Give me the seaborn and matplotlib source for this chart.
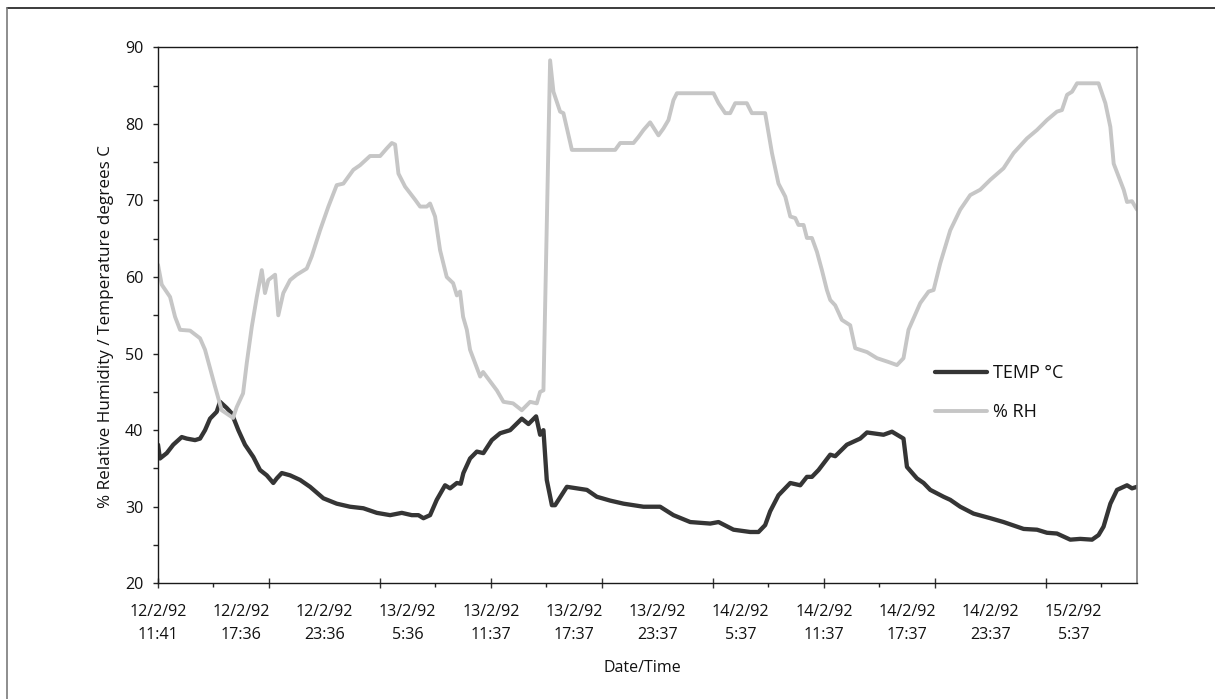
import matplotlib
matplotlib.use("Agg")
import matplotlib.pyplot as plt
from matplotlib.lines import Line2D
from matplotlib.ticker import FixedLocator, MultipleLocator, NullFormatter
import numpy as np
import pandas as pd
import seaborn as sns

# Logger readings, hours elapsed since 12/2/92 11:41
temp_hours = [0.00, 0.14, 0.63, 1.10, 1.71, 2.07, 2.67, 3.03, 3.39, 3.75, 4.23, 4.47,
              4.95, 5.31, 5.79, 6.27, 6.87, 7.35, 7.84, 8.31, 8.56, 8.92, 9.52, 10.24,
              10.96, 11.92, 12.88, 13.84, 14.80, 15.77, 16.73, 17.57, 18.29, 18.77, 19.13,
              19.61, 20.09, 20.69, 21.05, 21.54, 21.82, 22.01, 22.49, 22.98, 23.45, 24.06,
              24.66, 25.38, 26.22, 26.70, 27.25, 27.54, 27.78, 28.02, 28.39, 28.62, 29.47,
              30.91, 31.63, 32.59, 33.55, 34.99, 36.19, 37.15, 38.36, 39.80, 40.40, 41.48,
              42.68, 43.28, 43.76, 44.12, 44.72, 45.57, 46.29, 46.77, 47.13, 47.61, 48.45,
              48.81, 49.65, 50.61, 51.10, 52.29, 52.90, 53.73, 53.98, 54.70, 55.18, 55.66,
              56.62, 57.10, 57.82, 58.78, 59.99, 60.94, 62.39, 63.35, 64.07, 64.79, 65.75,
              66.47, 67.32, 67.79, 68.15, 68.64, 69.12, 69.84, 70.20, 70.56]
temp_values = [38.1, 36.3, 37.0, 38.1, 39.1, 38.9, 38.7, 38.9, 40.0, 41.5, 42.4, 43.7,
               42.9, 42.2, 40.0, 38.1, 36.5, 34.8, 34.1, 33.1, 33.7, 34.4, 34.1, 33.5,
               32.6, 31.1, 30.4, 30.0, 29.8, 29.2, 28.9, 29.2, 28.9, 28.9, 28.5,
               28.9, 30.9, 32.8, 32.4, 33.1, 33.0, 34.4, 36.3, 37.2, 37.0, 38.7,
               39.6, 40.0, 41.5, 40.8, 41.8, 39.4, 40.0, 33.5, 30.2, 30.2, 32.6,
               32.2, 31.3, 30.8, 30.4, 30.0, 30.0, 28.9, 28.0, 27.8, 28.0, 27.0,
               26.7, 26.7, 27.6, 29.4, 31.5, 33.1, 32.8, 33.9, 33.9, 34.8, 36.8,
               36.6, 38.1, 38.9, 39.7, 39.4, 39.8, 38.9, 35.2, 33.7, 33.1, 32.2,
               31.3, 30.9, 30.0, 29.1, 28.5, 28.0, 27.1, 27.0, 26.6, 26.5, 25.7,
               25.8, 25.7, 26.3, 27.4, 30.4, 32.2, 32.8, 32.4, 32.6]

rh_hours = [0.00, 0.27, 0.87, 1.23, 1.59, 2.31, 3.03, 3.39, 4.11, 4.59, 5.41, 5.67,
            6.13, 6.40, 6.76, 7.12, 7.48, 7.71, 7.95, 8.44, 8.67, 9.03, 9.52, 10.00,
            10.72, 11.08, 11.68, 12.28, 12.88, 13.36, 14.08, 14.56, 15.28, 16.01, 16.49,
            16.85, 17.09, 17.33, 17.81, 18.53, 18.89, 19.37, 19.61, 19.97, 20.33, 20.81,
            21.27, 21.54, 21.77, 21.99, 22.26, 22.49, 23.22, 23.43, 24.42, 24.90, 25.59,
            26.22, 26.82, 27.30, 27.54, 27.78, 28.26, 28.50, 28.98, 29.22, 29.83, 32.95,
            33.31, 34.27, 34.63, 34.99, 35.47, 36.07, 36.43, 36.79, 37.15, 37.40, 40.04,
            40.40, 40.88, 41.24, 41.60, 42.44, 42.80, 43.76, 44.25, 44.72, 45.21, 45.57,
            45.93, 46.16, 46.53, 46.77, 47.13, 47.49, 47.85, 48.21, 48.45, 48.81, 49.29,
            49.89, 50.25, 51.10, 51.82, 52.65, 53.26, 53.73, 54.09, 54.94, 55.54, 55.90,
            56.38, 57.10, 57.82, 58.54, 59.26, 59.99, 60.94, 61.67, 62.63, 63.35, 64.07,
            64.79, 65.15, 65.52, 65.88, 66.24, 67.79, 68.28, 68.64, 68.88, 69.24, 69.60,
            69.84, 70.20, 70.56]
rh_values = [61.6, 59.0, 57.4, 54.8, 53.1, 53.0, 52.0, 50.5, 45.7, 42.6, 41.6, 43.0,
             44.8, 48.8, 53.5, 57.4, 60.9, 57.9, 59.6, 60.3, 55.0, 57.9, 59.6, 60.3,
             61.1, 62.7, 66.1, 69.2, 72.0, 72.2, 74.0, 74.6, 75.8, 75.8, 76.8,
             77.5, 77.3, 73.5, 71.8, 70.1, 69.2, 69.2, 69.6, 67.9, 63.5, 60.0,
             59.2, 57.6, 58.1, 54.8, 53.1, 50.5, 47.0, 47.6, 45.2, 43.7, 43.5,
             42.6, 43.7, 43.5, 45.0, 45.2, 88.3, 84.2, 81.6, 81.4, 76.6, 76.6,
             77.5, 77.5, 78.3, 79.2, 80.2, 78.5, 79.4, 80.5, 83.1, 84.0, 84.0,
             82.7, 81.4, 81.4, 82.7, 82.7, 81.4, 81.4, 76.2, 72.2, 70.5, 67.9,
             67.7, 66.8, 66.8, 65.1, 65.1, 63.3, 60.9, 58.3, 57.0, 56.3, 54.4,
             53.7, 50.7, 50.2, 49.4, 48.9, 48.5, 49.4, 53.1, 56.6, 58.1, 58.3,
             61.8, 66.1, 68.8, 70.7, 71.4, 72.7, 74.2, 76.2, 78.1, 79.2, 80.5,
             81.6, 81.8, 83.8, 84.2, 85.3, 85.3, 82.7, 79.6, 74.8, 73.1, 71.4,
             69.8, 69.9, 68.8]

# Category labels every 6 hours
label_hours = [0, 6, 12, 18, 24, 30, 36, 42, 48, 54, 60, 66]
tick_labels = ["12/2/92\n11:41", "12/2/92\n17:36", "12/2/92\n23:36", "13/2/92\n5:36",
               "13/2/92\n11:37", "13/2/92\n17:37", "13/2/92\n23:37", "14/2/92\n5:37",
               "14/2/92\n11:37", "14/2/92\n17:37", "14/2/92\n23:37", "15/2/92\n5:37"]

temp_df = pd.DataFrame({"hours": temp_hours, "value": temp_values})
rh_df = pd.DataFrame({"hours": rh_hours, "value": rh_values})

sns.set_theme(style="white")
plt.rcParams["font.family"] = ["Open Sans", "DejaVu Sans"]

W, H = 1215, 699
fig = plt.figure(figsize=(W / 100, H / 100), dpi=100)
left, right, top, bottom = 158, 1137, 47.3, 583.3
ax = fig.add_axes([left / W, 1 - bottom / H, (right - left) / W, (bottom - top) / H])

dark = "#353535"
light = "#c6c6c6"
sns.lineplot(data=temp_df, x="hours", y="value", ax=ax, color=dark, linewidth=3.1,
             estimator=None, sort=False, label="TEMP \u00b0C")
sns.lineplot(data=rh_df, x="hours", y="value", ax=ax, color=light, linewidth=2.8,
             estimator=None, sort=False, label="% RH")

ax.set_xlim(0, 70.56)
ax.set_ylim(20, 90)

# Y axis: labelled every 10, minor marks every 5
ax.yaxis.set_major_locator(MultipleLocator(10))
ax.yaxis.set_minor_locator(MultipleLocator(5))
ax.tick_params(axis="y", which="both", direction="out", length=3.6, width=1.0,
               color="#222222", left=True, labelsize=11.6, pad=7, labelcolor="#111111")

# X axis: labels every 6 h without marks, small marks every 4 h
ax.xaxis.set_major_locator(FixedLocator(label_hours))
ax.set_xticklabels(tick_labels, linespacing=1.55)
ax.xaxis.set_minor_locator(FixedLocator([h for h in range(4, 71, 8)]))
ax.xaxis.set_minor_formatter(NullFormatter())
ax.tick_params(axis="x", which="major", length=0, labelsize=11.6, pad=15,
               labelcolor="#111111")
ax.tick_params(axis="x", which="minor", direction="out", length=3.0, width=1.0,
               color="#222222", bottom=True)

# Longer crossing marks every 8 h
sec = ax.secondary_xaxis("bottom")
sec.set_xticks(list(range(0, 71, 8)))
sec.set_xticklabels([])
sec.tick_params(axis="x", direction="inout", length=7.5, width=1.0, color="#333333")
sec.spines["bottom"].set_visible(False)

for name in ["left", "bottom", "top"]:
    ax.spines[name].set_visible(True)
    ax.spines[name].set_color("#1a1a1a")
    ax.spines[name].set_linewidth(1.0)
ax.spines["right"].set_visible(True)
ax.spines["right"].set_color("#7a7a7a")
ax.spines["right"].set_linewidth(1.2)

ax.set_xlabel("Date/Time", fontsize=11.5, color="#111111")
ax.xaxis.set_label_coords(0.495, (bottom - 659.5) / (bottom - top))
ax.set_ylabel("% Relative Humidity / Temperature degrees C", fontsize=12.3,
              color="#111111")
ax.yaxis.set_label_coords((114 - left) / (right - left), (bottom - 327) / (bottom - top))

leg = ax.legend(loc="center left", bbox_to_anchor=((935 - left) / (right - left),
                (bottom - 392.5) / (bottom - top)),
                frameon=False, fontsize=13, handlelength=2.9, handletextpad=0.3,
                labelspacing=1.15, borderpad=0, borderaxespad=0)
for txt in leg.get_texts():
    txt.set_color("#111111")

# Outer frame edges
fig.add_artist(Line2D([7 / W, 1], [1 - 8 / H, 1 - 8 / H], color="#1a1a1a", lw=1.2,
                      transform=fig.transFigure))
fig.add_artist(Line2D([7 / W, 7 / W], [0, 1 - 8 / H], color="#7a7a7a", lw=1.2,
                      transform=fig.transFigure))

fig.savefig("out.png", dpi=100)
